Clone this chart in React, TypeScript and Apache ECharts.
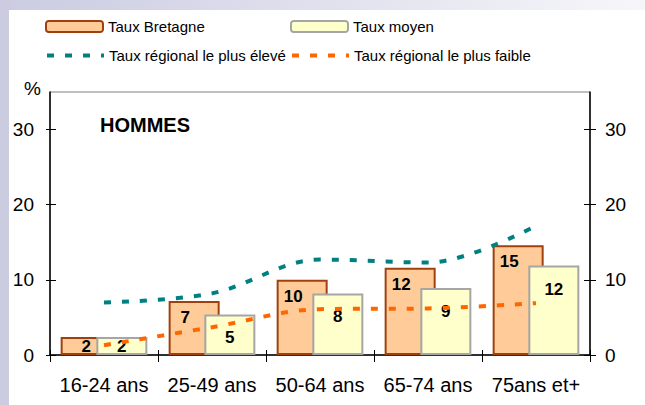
import React, { useEffect, useRef } from "react";
import * as echarts from "echarts";

const categories = ["16-24 ans", "25-49 ans", "50-64 ans", "65-74 ans", "75ans et+"];
const tauxBretagne = [2.4, 7.2, 10.0, 11.6, 14.6];
const tauxMoyen = [2.4, 5.4, 8.2, 8.9, 11.9];
const tauxMax = [7.0, 8.2, 12.7, 12.3, 17.2];
const tauxMin = [1.3, 3.7, 6.1, 6.2, 6.9];
const yTicks = [0, 10, 20, 30];

const NARROW = "'Liberation Sans Narrow', 'Arial Narrow', Arial, 'Liberation Sans', sans-serif";
const SANS = "Arial, 'Liberation Sans', sans-serif";

export default function App() {
  const ref = useRef<HTMLDivElement>(null);
  useEffect(() => {
    if (!ref.current) return;
    const chart = echarts.init(ref.current, undefined, { renderer: "svg" });
    const labelFont = { fontFamily: NARROW, fontWeight: "bold" as const, fontSize: 17, color: "#000" };
    const legendText = { fontFamily: NARROW, fontSize: 15, color: "#000" };
    const lineLegend = {
      itemWidth: 57,
      itemHeight: 11,
      textStyle: legendText,
      padding: 0,
      itemStyle: { opacity: 0 },
      lineStyle: { width: 4, type: [7, 11] },
    };
    const yBase = {
      type: "value",
      min: 0,
      max: 35,
      interval: 10,
      splitLine: { show: false },
    };
    chart.setOption({
      animation: false,
      backgroundColor: "#ffffff",
      graphic: [
        { type: "rect", shape: { x: 0, y: 0, width: 645, height: 10 }, style: { fill: new echarts.graphic.LinearGradient(0, 0, 1, 0, [{ offset: 0, color: "#CBCBE2" }, { offset: 1, color: "#F6F6FA" }]) }, z: -10 },
        { type: "rect", shape: { x: 0, y: 0, width: 9, height: 405 }, style: { fill: "#CCCCE0" }, z: -10 },
        { type: "text", left: 24, top: 79, style: { text: "%", font: `19px ${SANS}`, fill: "#000" } },
        { type: "text", left: 100, top: 115, style: { text: "HOMMES", font: `bold 20px ${SANS}`, fill: "#000" } },
      ],
      legend: [
        { data: ["Taux Bretagne"], left: 45, top: 19, itemWidth: 57, itemHeight: 11, textStyle: legendText, padding: 0 },
        { data: ["Taux moyen"], left: 290, top: 19, itemWidth: 57, itemHeight: 11, textStyle: legendText, padding: 0 },
        { data: ["Taux régional le plus élevé"], left: 45, top: 48, ...lineLegend },
        { data: ["Taux régional le plus faible"], left: 290, top: 48, ...lineLegend },
      ],
      grid: { left: 50, right: 55, top: 92, bottom: 50, show: true, borderColor: "#808080", borderWidth: 1, backgroundColor: "transparent" },
      xAxis: [
        {
          type: "category",
          data: categories,
          boundaryGap: true,
          axisLine: { show: true, lineStyle: { color: "#000", width: 1.5 } },
          axisTick: { show: true, length: 7, lineStyle: { color: "#000", width: 1 } },
          axisLabel: { fontFamily: SANS, fontSize: 20, color: "#000", margin: 20, interval: 0 },
        },
        {
          type: "category",
          data: categories,
          position: "bottom",
          boundaryGap: true,
          axisLine: { show: false },
          axisTick: { show: true, inside: true, length: 5, lineStyle: { color: "#000", width: 1 } },
          axisLabel: { show: false },
        },
      ],
      yAxis: [
        {
          ...yBase,
          position: "left",
          axisLine: { show: true, lineStyle: { color: "#000", width: 1.5 } },
          axisTick: { show: true, length: 4, customValues: yTicks, lineStyle: { color: "#000" } },
          axisLabel: { fontFamily: SANS, fontSize: 19, color: "#000", margin: 16, customValues: yTicks },
        },
        {
          ...yBase,
          position: "right",
          axisLine: { show: true, lineStyle: { color: "#000", width: 1.5 } },
          axisTick: { show: true, length: 6, customValues: yTicks, lineStyle: { color: "#000" } },
          axisLabel: { fontFamily: SANS, fontSize: 19, color: "#000", margin: 15, customValues: yTicks },
        },
        {
          ...yBase,
          position: "left",
          axisLine: { show: false },
          axisTick: { show: true, inside: true, length: 6, customValues: yTicks, lineStyle: { color: "#000" } },
          axisLabel: { show: false },
        },
        {
          ...yBase,
          position: "right",
          axisLine: { show: false },
          axisTick: { show: true, inside: true, length: 6, customValues: yTicks, lineStyle: { color: "#000" } },
          axisLabel: { show: false },
        },
      ],
      series: [
        {
          name: "Taux Bretagne",
          type: "bar",
          barWidth: 51,
          barGap: "-30%",
          itemStyle: { color: "#FFCC99", borderColor: "#A0410D", borderWidth: 2 },
          label: {
            show: true,
            position: "insideTop",
            distance: 8,
            offset: [-9, 0],
            formatter: (p: any) => String(Math.round(p.value)),
            ...labelFont,
          },
          data: tauxBretagne.map((v, i) =>
            i === 0 ? { value: v, label: { position: "inside", offset: [0, 1] } } : v
          ),
        },
        {
          name: "Taux moyen",
          type: "bar",
          barWidth: 51,
          barGap: "-30%",
          itemStyle: { color: "#FFFFCC", borderColor: "#A6A6A6", borderWidth: 2 },
          label: {
            show: true,
            position: "insideTop",
            distance: 15,
            formatter: (p: any) => String(Math.round(p.value)),
            ...labelFont,
          },
          data: tauxMoyen.map((v, i) =>
            i === 0 ? { value: v, label: { position: "inside", offset: [0, 1] } } : v
          ),
        },
        {
          name: "Taux régional le plus élevé",
          type: "line",
          smooth: 0.35,
          symbol: "none",
          z: 3,
          itemStyle: { color: "#008080" },
          lineStyle: { color: "#008080", width: 4, type: [7, 11] },
          data: tauxMax,
        },
        {
          name: "Taux régional le plus faible",
          type: "line",
          smooth: 0.35,
          symbol: "none",
          z: 3,
          itemStyle: { color: "#FF6600" },
          lineStyle: { color: "#FF6600", width: 4, type: [7, 11] },
          data: tauxMin,
        },
      ],
    });
    return () => chart.dispose();
  }, []);
  return (
    <div
      ref={ref}
      style={{ position: "absolute", left: 0, top: 0, width: 645, height: 405 }}
    />
  );
}
